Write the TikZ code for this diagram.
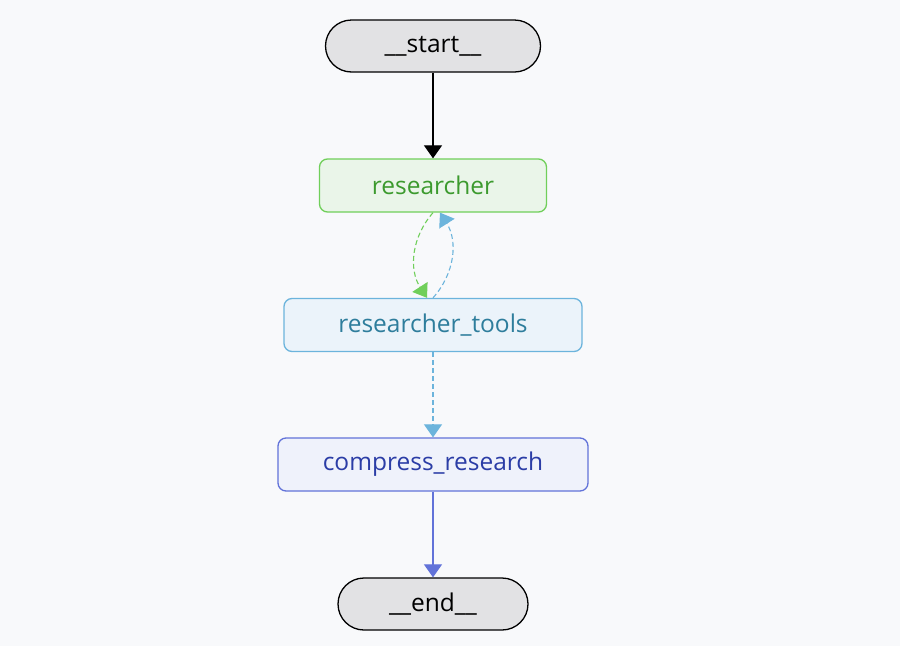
\documentclass[tikz,border=0pt]{standalone}
\usepackage{fontspec}
\setmainfont{Open Sans}
\usetikzlibrary{arrows.meta}

\definecolor{bgcol}{HTML}{F8F9FB}
\definecolor{endfill}{HTML}{E2E2E4}
\definecolor{resfill}{HTML}{EAF5E9}
\definecolor{resline}{HTML}{70CF5A}
\definecolor{restext}{HTML}{3C9A2E}
\definecolor{toolfill}{HTML}{EBF3FA}
\definecolor{toolline}{HTML}{6CB4DC}
\definecolor{tooltext}{HTML}{2E7D9C}
\definecolor{compfill}{HTML}{EFF2FB}
\definecolor{compline}{HTML}{6273D9}
\definecolor{comptext}{HTML}{2B3DA6}

\begin{document}
\begin{tikzpicture}[x=1pt, y=-1pt,
  tip/.style={-{Triangle[length=13pt,width=18pt]}},
  dash5/.style={dash pattern=on 5pt off 3pt},
  terminal/.style={draw=black, fill=endfill, line width=1.3pt, rounded corners=26pt,
    minimum height=52pt, inner sep=0pt, font=\fontsize{24.5}{29}\selectfont},
  box/.style={line width=1.3pt, rounded corners=8pt, minimum height=53pt,
    inner sep=0pt, font=\fontsize{24.5}{29}\selectfont}]

\fill[bgcol] (0,0) rectangle (900,646);
\useasboundingbox (0,0) rectangle (900,646);

\node[terminal, minimum width=215pt] (start) at (433,46) {\_\_start\_\_};
\node[box, draw=resline, fill=resfill, text=restext, minimum width=227pt] (res) at (433,185.5) {researcher};
\node[box, draw=toolline, fill=toolfill, text=tooltext, minimum width=298pt] (tools) at (433,325) {researcher\_tools};
\node[box, draw=compline, fill=compfill, text=comptext, minimum width=310pt] (comp) at (433,464.5) {compress\_research};
\node[terminal, minimum width=190pt] (end) at (433,604) {\_\_end\_\_};

\draw[tip, line width=1.2pt, black] (start) -- (res);
\draw[tip, line width=1.1pt, resline, dash5] (res.south) to[bend right=37] ([xshift=-6pt]tools.north);
\draw[tip, line width=1.1pt, toolline, dash5] (tools.north) to[bend right=37] ([xshift=7pt]res.south);
\draw[tip, line width=1.1pt, toolline, dash5] (tools) -- (comp);
\draw[tip, line width=1.2pt, compline] (comp) -- (end);

\end{tikzpicture}
\end{document}
